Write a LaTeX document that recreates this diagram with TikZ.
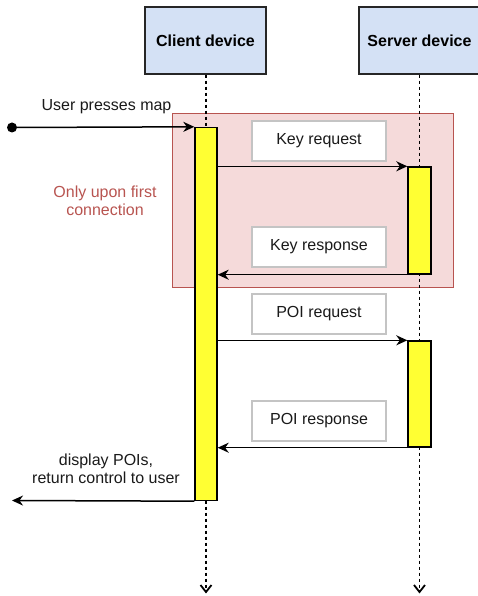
\documentclass[tikz,border=0pt]{standalone}
\usepackage{fontspec}
\setmainfont{Liberation Sans}
\usetikzlibrary{arrows.meta}
\definecolor{headfill}{HTML}{D4E1F5}
\definecolor{regfill}{HTML}{F5DADA}
\definecolor{regline}{HTML}{B85450}
\definecolor{actfill}{HTML}{FFFF33}
\definecolor{lblline}{HTML}{C4C4C4}
\definecolor{txt}{HTML}{1A1A1A}
\tikzset{
  headbox/.style={draw=black!85, line width=1.4pt, fill=headfill, minimum width=121pt, minimum height=67pt, inner sep=0pt, font=\fontsize{16}{18}\selectfont\bfseries},
  region/.style={draw=regline, line width=1pt, fill=regfill, minimum width=281pt, minimum height=173pt, inner sep=0pt},
  actbox/.style={draw=black, line width=1.4pt, fill=actfill, inner sep=0pt},
  lblbox/.style={draw=lblline, line width=1.4pt, fill=white, minimum width=134pt, minimum height=40pt, inner sep=0pt, text=txt},
  lifeline/.style={line width=1.5pt, dash pattern=on 3pt off 3pt},
  lifetip/.style={line width=1.8pt, solid, line join=miter},
  startdot/.style={circle, fill=black, minimum size=10pt, inner sep=0pt},
  msg/.style={line width=1.5pt, -{Stealth[length=11pt,width=10pt,inset=3.5pt]}},
  plaintext/.style={align=center, inner sep=0pt, text=txt, font=\fontsize{16}{18.5}\selectfont}
}
\begin{document}
\begin{tikzpicture}[x=1pt,y=-1pt, font=\fontsize{16}{18}\selectfont]
\useasboundingbox (0,0) rectangle (477,596);
% region
\node[region] (reg) at (312.5,200.5) {};
\node[plaintext, text=regline] (regl) at (105,201) {Only upon first\\connection};
% heads
\node[headbox] (chead) at (205.5,40.5) {Client device};
\node[headbox] (shead) at (419.5,40.5) {Server device};
% lifelines
\coordinate (cend) at (206,592);
\coordinate (send) at (419.5,592);
\draw[lifeline] (chead.south -| cend) -- (cend);
\draw[lifeline] (shead.south) -- (send);
\draw[lifetip] ([shift={(-5.5,-7)}]cend) -- (cend) -- ++(5.5,-7);
\draw[lifetip] ([shift={(-5.5,-7)}]send) -- (send) -- ++(5.5,-7);
% activations
\node[actbox, minimum width=22pt, minimum height=373pt] (cact) at (206,314) {};
\node[actbox, minimum width=23pt, minimum height=107pt] (sact1) at (419.5,220.5) {};
\node[actbox, minimum width=23pt, minimum height=106pt] (sact2) at (419.5,394) {};
% labels
\node[lblbox] (kreq) at (319,141) {Key request};
\node[lblbox] (kres) at (319,247) {Key response};
\node[lblbox] (preq) at (319,314) {POI request};
\node[lblbox] (pres) at (319,421) {POI response};
% user arrow
\node[startdot] (user) at (12,127.5) {};
\draw[msg] (user.center) -- (cact.north west);
\node[plaintext] (ul) at (106.5,107) {User presses map};
% messages
\draw[msg] (sact1.north west -| cact.east) -- (sact1.north west);
\draw[msg] (sact1.south west) -- (sact1.south west -| cact.east);
\draw[msg] (sact2.north west -| cact.east) -- (sact2.north west);
\draw[msg] (sact2.south west) -- (sact2.south west -| cact.east);
% return
\coordinate (out) at (12,500.5);
\draw[msg] (cact.south west) -- (out);
\node[plaintext] (dl) at (106,469) {display POIs,\\return control to user};
\end{tikzpicture}
\end{document}
